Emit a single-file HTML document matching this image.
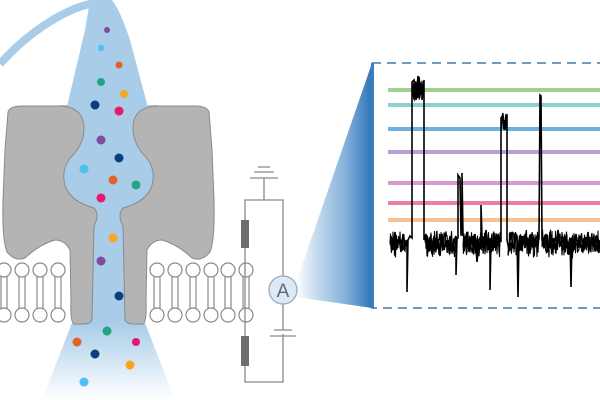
<!DOCTYPE html>
<html><head><meta charset="utf-8"><style>html,body{margin:0;padding:0;background:#fff}svg{display:block}</style></head>
<body>
<svg width="600" height="400" viewBox="0 0 600 400" xmlns="http://www.w3.org/2000/svg">
<defs>
<linearGradient id="fun" x1="0" y1="0" x2="0" y2="1"><stop offset="0" stop-color="#a9cde8"/><stop offset="1" stop-color="#a9cde8" stop-opacity="0"/></linearGradient>
<linearGradient id="wedge" x1="0" y1="0" x2="1" y2="0"><stop offset="0" stop-color="#3d85c6" stop-opacity="0"/><stop offset="0.6" stop-color="#5b98cf" stop-opacity="0.7"/><stop offset="1" stop-color="#2f73b8"/></linearGradient>
</defs>
<!-- tube -->
<path d="M0,64 C30,30 70,6 96,3" fill="none" stroke="#a9cde8" stroke-width="8"/>
<path d="M90,0 L112,0 Q120,10 130,40 L150,115 L65,115 L85,30 Z" fill="#a9cde8"/>
<path d="M60,105 L157,105 L157,215 L137,215 L137,325 L80,325 L80,215 L60,215 Z" fill="#a9cde8"/>
<path d="M72,323 L145,323 L175,400 L42,400 Z" fill="url(#fun)"/>
<!-- proteins -->
<path d="M8,112 Q10,106 22,106 L62,106 Q84,108 84,128 Q84,145 70,158 Q60,172 66,188 Q72,202 94,208 Q100,215 94,226 L92,320 Q90,324 84,324 L74,324 Q70,322 71,300 L70,250 Q65,240 55,240 Q40,244 25,258 Q15,262 7,252 Q2,240 3,200 L5,150 Z" fill="#b4b4b4" stroke="#8a8a8a" stroke-width="1"/>
<path d="M209,112 Q207,106 195,106 L155,106 Q133,108 133,128 Q133,145 147,158 Q157,172 151,188 Q145,202 123,208 Q117,215 123,226 L125,320 Q127,324 133,324 L143,324 Q147,322 146,300 L147,250 Q152,240 162,240 Q177,244 192,258 Q202,262 210,252 Q215,240 214,200 L212,150 Z" fill="#b4b4b4" stroke="#8a8a8a" stroke-width="1"/>
<!-- lipids -->
<defs>
<g id="lip"><line x1="-3" y1="276" x2="-3" y2="309"/><line x1="3" y1="276" x2="3" y2="309"/><circle cx="0" cy="270" r="7"/><circle cx="0" cy="315" r="7"/></g>
</defs>
<g fill="#fff" stroke="#8a8a8a" stroke-width="1.2">
<use href="#lip" x="4"/><use href="#lip" x="22"/><use href="#lip" x="40"/><use href="#lip" x="58"/>
<use href="#lip" x="157"/><use href="#lip" x="175"/><use href="#lip" x="193"/><use href="#lip" x="211"/><use href="#lip" x="228"/><use href="#lip" x="246"/>
</g>
<!-- dots -->
<g>
<circle cx="107" cy="30" r="3" fill="#7b4d9e"/><circle cx="101" cy="48" r="3.2" fill="#4cc1ef"/><circle cx="119" cy="65" r="3.5" fill="#e0642a"/><circle cx="101" cy="82" r="4" fill="#23a67f"/><circle cx="124" cy="94" r="4" fill="#f5a623"/><circle cx="95" cy="105" r="4.5" fill="#0b3f7c"/><circle cx="119" cy="111" r="4.5" fill="#e5186e"/><circle cx="101" cy="140" r="4.5" fill="#7b4d9e"/><circle cx="119" cy="158" r="4.5" fill="#0b3f7c"/><circle cx="84" cy="169" r="4.5" fill="#4cc1ef"/><circle cx="113" cy="180" r="4.5" fill="#e0642a"/><circle cx="136" cy="185" r="4.5" fill="#23a67f"/><circle cx="101" cy="198" r="4.5" fill="#e5186e"/><circle cx="113" cy="238" r="4.5" fill="#f5a623"/><circle cx="101" cy="261" r="4.5" fill="#7b4d9e"/><circle cx="119" cy="296" r="4.5" fill="#0b3f7c"/><circle cx="107" cy="331" r="4.5" fill="#23a67f"/><circle cx="77" cy="342" r="4.5" fill="#e0642a"/><circle cx="136" cy="342" r="4" fill="#e5186e"/><circle cx="95" cy="354" r="4.5" fill="#0b3f7c"/><circle cx="130" cy="365" r="4.5" fill="#f5a623"/><circle cx="84" cy="382" r="4.5" fill="#4cc1ef"/>
</g>
<!-- circuit -->
<g stroke="#8a8a8a" stroke-width="1.3" fill="none">
<line x1="258" y1="167" x2="270" y2="167"/><line x1="254" y1="172" x2="274" y2="172"/><line x1="250" y1="178" x2="278" y2="178"/>
<line x1="264" y1="178" x2="264" y2="200"/>
<path d="M264,200 L245,200 L245,382 L283,382 L283,334"/>
<path d="M264,200 L283,200 L283,276"/>
<line x1="283" y1="304" x2="283" y2="330"/>
<line x1="274" y1="330" x2="292" y2="330"/><line x1="270" y1="336" x2="296" y2="336"/>
</g>
<rect x="241" y="220" width="8" height="28" fill="#6e6e6e"/>
<rect x="241" y="336" width="8" height="30" fill="#6e6e6e"/>
<!-- wedge -->
<path d="M296,283 L372,63 L372,308 L296,297 Z" fill="url(#wedge)"/>
<circle cx="283" cy="290" r="14" fill="#dde9f5" stroke="#9ab" stroke-width="1.3"/>
<text x="283" y="297" text-anchor="middle" font-family="Liberation Sans, sans-serif" font-size="19" fill="#667">A</text>
<!-- box -->
<rect x="372" y="63" width="240" height="245" fill="#fff" stroke="#6a9cc6" stroke-width="2" stroke-dasharray="9,6"/>
<rect x="371" y="63" width="3" height="245" fill="#3a7fc0"/>
<g stroke-width="4">
<line x1="388" y1="90" x2="600" y2="90" stroke="#9fd08e"/>
<line x1="388" y1="105" x2="600" y2="105" stroke="#8fd0d0"/>
<line x1="388" y1="129" x2="600" y2="129" stroke="#6fb0dc"/>
<line x1="388" y1="152" x2="600" y2="152" stroke="#b7a2d4"/>
<line x1="388" y1="183" x2="600" y2="183" stroke="#d59ad0"/>
<line x1="388" y1="203" x2="600" y2="203" stroke="#ee7fa0"/>
<line x1="388" y1="220" x2="600" y2="220" stroke="#f6c095"/>
</g>
<g id="tr" fill="none" stroke="#000" stroke-width="1.6">
<polyline id="trace" points="391,236 393,250 395,232 397,248 399,238 401,252 403,234 405,246 407,240 407,292 408,240 410,236 412,238 412,82 414,80 416,100 418,76 420,92 422,84 422,100 424,80 424,240 426,234 428,252 430,238 432,254 434,236 436,250 438,240 440,256 442,234 444,250 446,240 448,248 450,236 452,252 454,240 456,236 456,275 457,238 458,238 458,175 460,178 461,235 462,235 462,173 463,235 465,240 467,232 469,252 471,238 473,246 475,234 477,262 479,240 481,236 481,205 482,236 484,248 486,230 488,250 490,238 490,290 491,240 493,250 495,236 497,246 499,238 501,242 501,118 503,115 505,130 507,115 507,240 509,250 511,232 513,248 515,240 517,236 518,297 519,240 521,250 523,236 525,248 527,238 529,252 531,234 533,248 535,240 537,236 539,238 540,95 541,96 542,240 544,248 546,234 548,252 550,232 552,244 554,238 556,250 558,230 560,246 562,236 564,250 566,236 568,246 570,238 571,287 572,240 574,250 576,234 578,248 580,236 582,252 584,238 586,246 588,232 590,250 592,238 594,246 596,236 598,250 600,240"/>
</g>
</svg>
<script>
(function(){
var s=7;function r(){s=(s*9301+49297)%233280;return s/233280;}
var segs=[[390,406],[425,455],[463,500],[508,539],[542,600]];
var g=document.getElementById('tr');
for(var k=0;k<2;k++)
segs.forEach(function(sg){
 var pts=[];for(var x=sg[0];x<=sg[1];x+=0.5){pts.push(x.toFixed(1)+','+(244+(r()-0.5)*20+(r()-0.5)*10).toFixed(1));}
 var p=document.createElementNS('http://www.w3.org/2000/svg','polyline');
 p.setAttribute('points',pts.join(' '));p.setAttribute('stroke-width','1.1');g.appendChild(p);
});
[[413,422,80,100],[501,507,113,132],[418,422,76,95]].forEach(function(b){
 var pts=[];for(var x=b[0];x<=b[1];x+=0.4){pts.push(x+','+(b[2]+r()*(b[3]-b[2])).toFixed(1));}
 var p=document.createElementNS('http://www.w3.org/2000/svg','polyline');
 p.setAttribute('points',pts.join(' '));p.setAttribute('stroke-width','1.4');g.appendChild(p);
});
})();
</script>
</body></html>
